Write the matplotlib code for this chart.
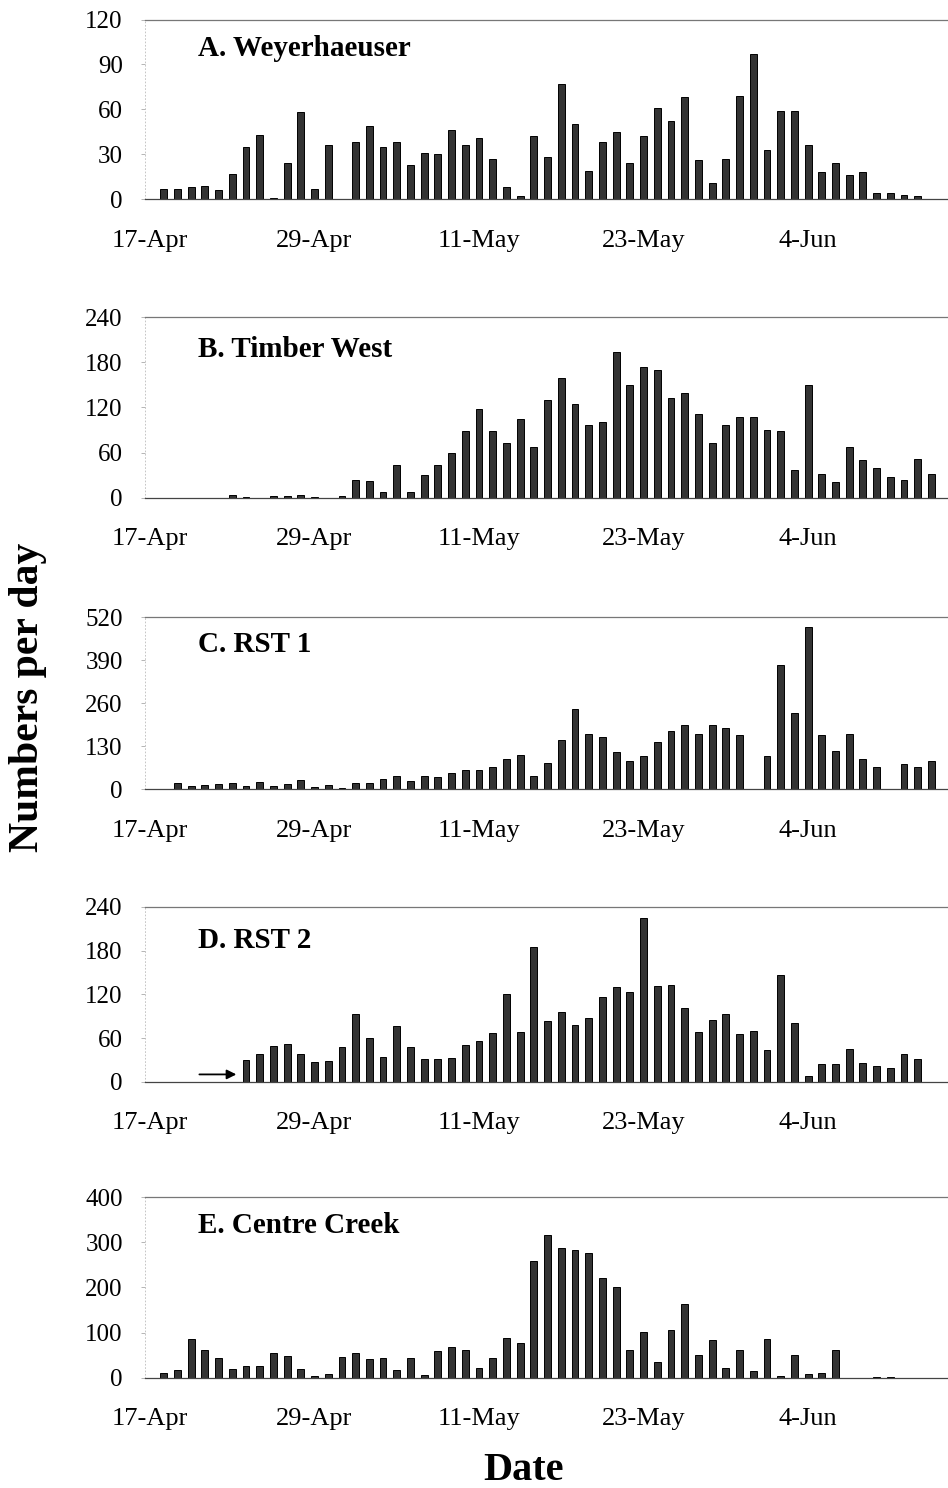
import numpy as np
import matplotlib
matplotlib.use('Agg')
import matplotlib.pyplot as plt

plt.rcParams['font.family'] = ['Liberation Serif', 'DejaVu Serif']

# days since 17-Apr (0 .. 57)
days = np.arange(58)
tick_days = [0, 12, 24, 36, 48]
tick_labels = ['17-Apr', '29-Apr', '11-May', '23-May', '4-Jun']

weyerhaeuser = [0, 7, 7, 8, 9, 6, 17, 35, 43, 1, 24, 58, 7, 36, 0, 38, 49, 35, 38, 23,
                31, 30, 46, 36, 41, 27, 8, 2, 42, 28, 77, 50, 19, 38, 45, 24, 42, 61, 52, 68,
                26, 11, 27, 69, 97, 33, 59, 59, 36, 18, 24, 16, 18, 4, 4, 3, 2, 0]
timber_west = [0, 0, 0, 0, 0, 0, 3, 1, 0, 2, 2, 3, 1, 0, 2, 24, 22, 7, 44, 8,
               30, 43, 59, 89, 118, 89, 72, 105, 68, 130, 159, 125, 97, 100, 194, 150, 173, 170, 133, 139,
               111, 73, 96, 107, 107, 90, 88, 37, 150, 31, 21, 68, 50, 39, 27, 24, 52, 32]
rst1 = [0, 0, 18, 10, 14, 16, 18, 11, 23, 9, 16, 28, 7, 12, 4, 20, 18, 30, 40, 25,
        39, 36, 49, 59, 57, 67, 91, 103, 39, 79, 149, 241, 168, 159, 112, 84, 102, 143, 175, 195,
        168, 195, 186, 163, 0, 102, 376, 229, 490, 164, 115, 166, 91, 66, 0, 76, 68, 86]
rst2 = [0, 0, 0, 0, 0, 0, 0, 30, 38, 49, 52, 38, 27, 29, 47, 93, 60, 34, 77, 47,
        31, 31, 32, 50, 56, 67, 120, 68, 185, 83, 96, 78, 88, 116, 130, 123, 225, 131, 133, 101,
        68, 85, 93, 65, 70, 44, 146, 81, 8, 25, 24, 45, 26, 21, 19, 38, 31, 0]
centre_creek = [0, 11, 16, 86, 61, 44, 20, 26, 26, 55, 47, 19, 4, 9, 45, 54, 41, 44, 16, 44,
                6, 60, 69, 61, 21, 44, 88, 76, 259, 316, 287, 282, 277, 220, 201, 62, 101, 35, 105, 164,
                51, 83, 22, 62, 15, 85, 4, 51, 8, 10, 62, 0, 0, 1, 1, 0, 0, 0]

panels = [
    ('A. Weyerhaeuser', weyerhaeuser, [0, 30, 60, 90, 120], 19.5, 199.3, 0.84),
    ('B. Timber West', timber_west, [0, 60, 120, 180, 240], 317, 497.7, 0.82),
    ('C. RST 1', rst1, [0, 130, 260, 390, 520], 617, 789.3, 0.84),
    ('D. RST 2', rst2, [0, 60, 120, 180, 240], 907, 1081.7, 0.81),
    ('E. Centre Creek', centre_creek, [0, 100, 200, 300, 400], 1197, 1377.7, 0.845),
]

W, H = 948, 1488
fig = plt.figure(figsize=(W / 100, H / 100), dpi=100)

px_day = 13.71
x0 = 145
xlim = (-(150 - x0) / px_day, (W - 150) / px_day)

for title, vals, yticks, top, bot, ty in panels:
    ax = fig.add_axes([x0 / W, 1 - bot / H, (W - x0) / W, (bot - top) / H])
    ax.bar(days, vals, width=0.5, color='#333333', edgecolor='black', linewidth=0.7)
    ax.set_xlim(*xlim)
    ax.set_ylim(0, yticks[-1])
    ax.set_yticks(yticks)
    ax.set_xticks(tick_days)
    ax.set_xticklabels(tick_labels)
    ax.tick_params(axis='y', length=3, width=0.6, color='#aaaaaa', pad=13, labelsize=18)
    ax.tick_params(axis='x', length=0, pad=22, labelsize=19)
    ax.spines['top'].set_color('#777777')
    ax.spines['top'].set_linewidth(0.9)
    ax.spines['top'].set_linestyle((0, (5, 1)))
    ax.spines['right'].set_visible(False)
    ax.spines['left'].set_color('#bbbbbb')
    ax.spines['left'].set_linewidth(0.6)
    ax.spines['left'].set_linestyle((0, (1, 3)))
    ax.spines['bottom'].set_color('#444444')
    ax.spines['bottom'].set_linewidth(0.9)
    ax.spines['bottom'].set_linestyle((0, (4, 1)))
    ax.text((198 - x0) / (W - x0), ty, title, transform=ax.transAxes,
            fontsize=21, fontweight='bold', va='center', ha='left')
    if title.startswith('D'):
        ax.annotate('', xy=(6.5, 10), xytext=(3.4, 10),
                    arrowprops=dict(arrowstyle='-|>', color='black', lw=1.3,
                                    mutation_scale=14))

fig.text(28 / W, 1 - 697 / H, 'Numbers per day', rotation=90, fontsize=30,
         fontweight='bold', ha='center', va='center')
fig.text(524 / W, 1 - 1471 / H, 'Date', fontsize=29, fontweight='bold',
         ha='center', va='center')

fig.savefig('out.png', dpi=100)
